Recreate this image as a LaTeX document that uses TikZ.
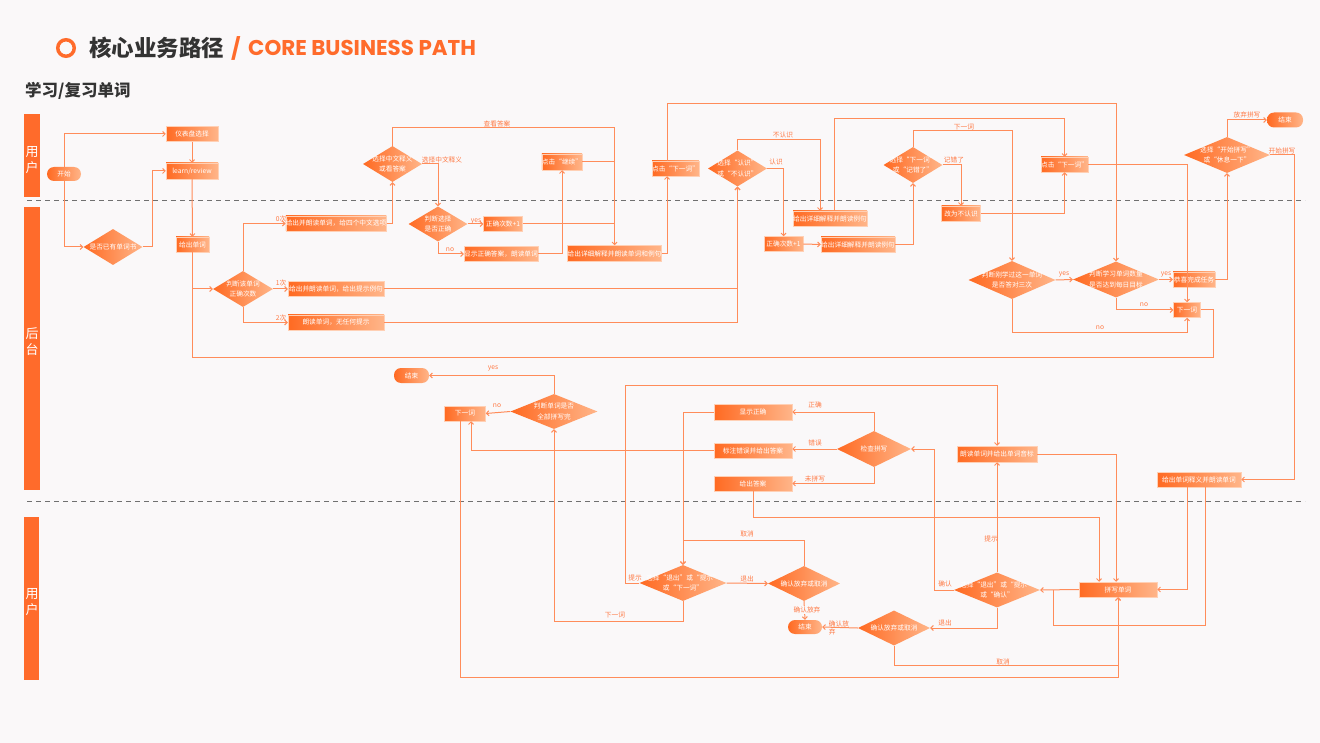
\documentclass[tikz,border=0pt]{standalone}
\usepackage{fontspec}
\newfontfamily\cjk{Noto Sans CJK SC}
\newfontfamily\enf{Poppins}
\usetikzlibrary{arrows.meta,shapes.geometric}
\definecolor{bg}{HTML}{FAF8F9}
\definecolor{oA}{HTML}{FF6A22}
\definecolor{oB}{HTML}{FFB589}
\definecolor{oE}{HTML}{FFD0B5}
\definecolor{laneC}{HTML}{FF6B2B}
\definecolor{lineC}{HTML}{FF8C5A}
\definecolor{lblC}{HTML}{FF7A45}
\definecolor{darkT}{HTML}{333333}
\definecolor{dashC}{HTML}{707070}
\newcommand\nodefont{\cjk\fontsize{6.7}{10.5}\selectfont}
\newcommand\lblfont{\cjk\fontsize{6.7}{8}\selectfont}
\begin{document}
\begin{tikzpicture}[x=1pt,y=-1pt,
  box/.style={rectangle, left color=oA, right color=oB, draw=oE, line width=0.5pt, text=white, font=\nodefont, inner sep=0pt, minimum height=15pt},
  dia/.style={diamond, left color=oA, right color=oB, inner sep=0pt},
  dtxt/.style={text=white, font=\nodefont, align=center, inner sep=0pt},
  pill/.style={rectangle, rounded corners=7pt, left color=oA, right color=oB, text=white, font=\nodefont, inner sep=0pt, minimum height=14pt},
  conn/.style={draw=lineC, line width=1pt, -{Straight Barb[length=2.5pt,width=5pt]}},
  link/.style={draw=lineC, line width=1pt},
  lbl/.style={text=lblC, font=\lblfont, inner sep=0.5pt},
  lanetxt/.style={text=white, font=\cjk\fontsize{13}{16}\selectfont, align=center},
  sep/.style={draw=dashC, line width=0.9pt, dash pattern=on 5pt off 4pt}]
\fill[bg] (0,0) rectangle (1320,743);
\useasboundingbox (0,0) rectangle (1320,743);
% title
\node[circle, draw=laneC, line width=3.5pt, minimum size=16.5pt, inner sep=0pt] (ring) at (66,48) {};
\node[anchor=west, font=\cjk\bfseries\fontsize{22.5}{24}\selectfont, text=darkT, inner sep=0pt] (t1) at (89,48) {核心业务路径};
\node[font=\enf\bfseries\fontsize{21}{24}\selectfont, text=laneC, inner sep=0pt] (slash) at (236,48) {/};
\node[anchor=west, font=\enf\bfseries\fontsize{21.4}{24}\selectfont, text=laneC, inner sep=0pt] (t2) at (248,48) {CORE BUSINESS PATH};
\node[anchor=west, font=\cjk\bfseries\fontsize{16.5}{18}\selectfont, text=darkT, inner sep=0pt] (sub) at (25,91) {学习/复习单词};
% lanes
\fill[laneC] (24,114) rectangle (40,197);
\fill[laneC] (24,207) rectangle (40,490);
\fill[laneC] (24,517) rectangle (39,680);
\node[lanetxt] (lt1) at (32,160) {用\\户};
\node[lanetxt] (lt2) at (32,342) {后\\台};
\node[lanetxt] (lt3) at (32,602) {用\\户};
\draw[sep] (27,200) -- (1305,200);
\draw[sep] (27,501) -- (1305,501);
% upper nodes
\node[pill, minimum width=34pt] (start) at (64,174) {开始};
\node[box, minimum width=52pt] (dash1) at (192,134) {仪表盘选择};
\node[box, minimum width=52pt, minimum height=16pt] (lr) at (192,171) {learn/review};
\node[dia, minimum width=59pt, minimum height=36pt, label={[dtxt]center:{是否已有单词书}}] (dbook) at (113,247) {};
\node[box, minimum width=33pt] (give) at (192.5,244.5) {给出单词};
\node[dia, minimum width=60pt, minimum height=36pt, label={[dtxt]center:{判断该单词\\正确次数}}] (dcnt) at (243,289) {};
\node[box, minimum width=96pt] (b0) at (336,223.5) {给出并朗读单词，给四个中文选项};
\node[box, minimum width=96pt] (b1) at (336,289) {给出并朗读单词，给出提示例句};
\node[box, minimum width=96pt] (b2) at (336,322.5) {朗读单词，无任何提示};
\node[dia, minimum width=59pt, minimum height=36pt, label={[dtxt]center:{选择中文释义\\或看答案}}] (dch) at (392.5,164) {};
\node[dia, minimum width=59pt, minimum height=35pt, label={[dtxt]center:{判断选择\\是否正确}}] (djudge) at (438,224) {};
\node[box, minimum width=39pt] (cnt1) at (503,224) {正确次数+1};
\node[box, minimum width=74pt] (show) at (501,254) {显示正确答案，朗读单词};
\node[box, minimum width=36pt, minimum height=16pt] (cont) at (562,162) {点击“继续”};
\node[box, minimum width=89pt, minimum height=16pt] (det1) at (614.5,253.5) {给出详细解释并朗读单词和例句};
\node[box, minimum width=43pt] (next1) at (675.5,168.5) {点击“下一词”};
\node[dia, minimum width=59pt, minimum height=36pt, label={[dtxt]center:{选择“认识”\\或“不认识”}}] (dknow) at (737.5,168.5) {};
\node[box, minimum width=74pt] (det2) at (830,218.5) {给出详细解释并朗读例句};
\node[box, minimum width=39pt] (cnt2) at (783.5,244) {正确次数+1};
\node[box, minimum width=74pt] (det3) at (858,244.5) {给出详细解释并朗读例句};
\node[dia, minimum width=59pt, minimum height=36pt, label={[dtxt]center:{选择“下一词”\\或“记错了”}}] (dnext) at (913,165) {};
\node[box, minimum width=39pt] (unk) at (961,213.5) {改为不认识};
\node[box, minimum width=43pt] (next2) at (1064.5,164.5) {点击“下一词”};
\node[dia, minimum width=87pt, minimum height=38pt, label={[dtxt]center:{判断刚学过这一单词\\是否答对三次}}] (d3) at (1012,280) {};
\node[dia, minimum width=86pt, minimum height=36pt, label={[dtxt]center:{判断学习单词数量\\是否达到每日目标}}] (dgoal) at (1116,279.5) {};
\node[box, minimum width=42pt] (done) at (1194,279.5) {恭喜完成任务};
\node[box, minimum width=27pt] (nextw) at (1187,310) {下一词};
\node[dia, minimum width=86pt, minimum height=36pt, label={[dtxt]center:{选择“开始拼写”\\或“休息一下”}}] (dspell) at (1227,155) {};
\node[pill, minimum width=36pt, minimum height=15pt] (end1) at (1285,120) {结束};
% lower nodes
\node[box, minimum width=84pt] (defn) at (1199,479.5) {给出单词释义并朗读单词};
\node[box, minimum width=78pt] (spell) at (1118,589.5) {拼写单词};
\node[dia, minimum width=86pt, minimum height=35pt, label={[dtxt]center:{选择“退出”或“提示”\\或“确认”}}] (dconf) at (997,590) {};
\node[box, minimum width=80pt, minimum height=16pt] (read) at (997,454) {朗读单词并给出单词音标};
\node[dia, minimum width=74pt, minimum height=36pt, label={[dtxt]center:{检查拼写}}] (dcheck) at (874,449) {};
\node[box, minimum width=78pt, minimum height=16pt] (okb) at (753,412) {显示正确};
\node[box, minimum width=78pt] (wrong) at (753,450.5) {标注错误并给出答案};
\node[box, minimum width=78pt] (ans) at (753,483.5) {给出答案};
\node[dia, minimum width=72pt, minimum height=35pt, label={[dtxt]center:{确认放弃或取消}}] (dquit2) at (894,628) {};
\node[pill, minimum width=34pt] (end3) at (805,627) {结束};
\node[dia, minimum width=72pt, minimum height=35pt, label={[dtxt]center:{确认放弃或取消}}] (dquit1) at (804,583.5) {};
\node[dia, minimum width=87pt, minimum height=36pt, label={[dtxt]center:{选择“退出”或“提示”\\或“下一词”}}] (dhint) at (683,583) {};
\node[dia, minimum width=87pt, minimum height=35pt, label={[dtxt]center:{判断单词是否\\全部拼写完}}] (dall) at (554,411.5) {};
\node[box, minimum width=41pt] (nextl) at (465,413.5) {下一词};
\node[pill, minimum width=35pt, minimum height=15pt] (end2) at (411.5,375.5) {结束};
% upper connectors
\draw[conn] (start.north) |- (dash1.west);
\draw[conn] (start.south) |- (dbook.west);
\draw[conn] (dbook.east) -- (152,247) |- (lr.west);
\draw[conn] (dash1) -- (lr);
\draw[conn] (lr.south) -- (give.north);
\draw[conn] (give.south) |- (dcnt.west);
\draw[link] (nextw.east) -- (1213,310) -- (1213,357) -- (192.5,357) -- (192.5,289);
\draw[conn] (dcnt.north) |- (b0.west);
\draw[conn] (dcnt.east) -- (b1.west);
\draw[conn] (dcnt.south) |- (b2.west);
\draw[conn] (b0.east) -| (dch.south);
\draw[conn] (dch.north) -- (392.5,128) -| (det1.north);
\draw[conn] (dch.east) -| (djudge.north);
\draw[conn] (djudge.east) -- (cnt1.west);
\draw[conn] (djudge.south) |- (show.west);
\draw[link] (cnt1.east) -- (614.5,224);
\draw[conn] (show.east) -| (cont.south);
\draw[link] (cont.east) -- (614.5,162);
\draw[conn] (det1.east) -| ([xshift=-8.5pt]next1.south);
\draw[conn] ([xshift=-8.5pt]next1.north) -- (667,104) -| (dgoal.north);
\draw[conn] (b1.east) -| (dknow.south);
\draw[conn] (b2.east) -| (dknow.south);
\draw[conn] (dknow.north) -- (737.5,140) -| ([xshift=-10pt]det2.north);
\draw[conn] (dknow.east) -| (cnt2.north);
\draw[conn] ([xshift=4pt]det2.north) -- (834,119) -| (next2.north);
\draw[conn] (cnt2.east) -- (det3.west);
\draw[conn] (det3.east) -| (dnext.south);
\draw[conn] (dnext.north) -- (913,131) -| (d3.north);
\draw[conn] (dnext.east) -| (unk.north);
\draw[conn] (unk.east) -| (next2.south);
\draw[conn] (next2.east) -| (nextw.north);
\draw[conn] (d3.east) -- (dgoal.west);
\draw[conn] (d3.south) -- (1012,333) -| (nextw.south);
\draw[conn] (dgoal.east) -- (done.west);
\draw[conn] (dgoal.south) |- (nextw.west);
\draw[conn] (done.east) -| (dspell.south);
\draw[conn] (dspell.north) |- (end1.west);
\draw[conn] (dspell.east) -- (1294,155) |- (defn.east);
% lower connectors
\draw[conn] ([xshift=-12pt]defn.south) |- (spell.east);
\draw[link] ([xshift=6.5pt]defn.south) -- (1205.5,625) -- (1053,625) -- (1053,590);
\draw[conn] (spell.west) -- (dconf.east);
\draw[conn] (dconf.north) -- (read.south);
\draw[conn] (dconf.west) -- (934,590) |- (dcheck.east);
\draw[conn] (dconf.south) |- (dquit2.east);
\draw[conn] (dquit2.west) -- (end3.east);
\draw[conn] (dquit2.south) -- (894,665.5) -| (spell.south);
\draw[conn] ([xshift=-5pt]nextl.south) -- (460,677) -| (spell.south);
\draw[conn] (read.east) -| ([xshift=-2pt]spell.north);
\draw[conn] (ans.south) -- (753,517) -| ([xshift=-19pt]spell.north);
\draw[conn] (dcheck.north) |- (okb.east);
\draw[conn] (dcheck.west) -- (dcheck.west -| wrong.east);
\draw[conn] (dcheck.south) |- (ans.east);
\draw[conn] (okb.west) -| (dhint.north);
\draw[conn] (wrong.west) -| ([xshift=6pt]nextl.south);
\draw[conn] (dhint.east) -- (dquit1.west);
\draw[conn] (dquit1.north) -- (804,540.5) -| (dhint.north);
\draw[conn] (dquit1.south) -- (end3.north);
\draw[conn] (dhint.west) -- (625,583) -- (625,385) -| (read.north);
\draw[conn] (dhint.south) -- (683,621) -| (dall.south);
\draw[conn] (dall.west) -- (nextl.east);
\draw[conn] (dall.north) |- (end2.east);
% labels
\node[lbl] (l1) at (281,219) {0次};
\node[lbl] (l2) at (281,283) {1次};
\node[lbl] (l3) at (281,318) {2次};
\node[lbl] (l4) at (497,124) {查看答案};
\node[lbl] (l5) at (442,160) {选择中文释义};
\node[lbl] (l6) at (476,221) {yes};
\node[lbl] (l7) at (450,250) {no};
\node[lbl] (l8) at (783,135) {不认识};
\node[lbl] (l9) at (776,162) {认识};
\node[lbl] (l10) at (964,127) {下一词};
\node[lbl] (l11) at (954,160) {记错了};
\node[lbl] (l12) at (1064,274) {yes};
\node[lbl] (l13) at (1166,274) {yes};
\node[lbl] (l14) at (1144,305) {no};
\node[lbl] (l15) at (1100,328) {no};
\node[lbl] (l16) at (1247,115) {放弃拼写};
\node[lbl] (l17) at (1282,151) {开始拼写};
\node[lbl] (l18) at (493,368) {yes};
\node[lbl] (l19) at (497,406) {no};
\node[lbl] (l20) at (815,405) {正确};
\node[lbl] (l21) at (815,443) {错误};
\node[lbl] (l22) at (815,479) {未拼写};
\node[lbl] (l23) at (991,539) {提示};
\node[lbl] (l24) at (945,584) {确认};
\node[lbl] (l25) at (945,623) {退出};
\node[lbl, align=left] (l26) at (839,628) {确认放\\弃};
\node[lbl] (l27) at (1003,662) {取消};
\node[lbl] (l28) at (635,578) {提示};
\node[lbl] (l29) at (615,615) {下一词};
\node[lbl] (l30) at (747,534) {取消};
\node[lbl] (l31) at (747,579) {退出};
\node[lbl, fill=bg] (l32) at (807,610) {确认放弃};
\end{tikzpicture}
\end{document}
